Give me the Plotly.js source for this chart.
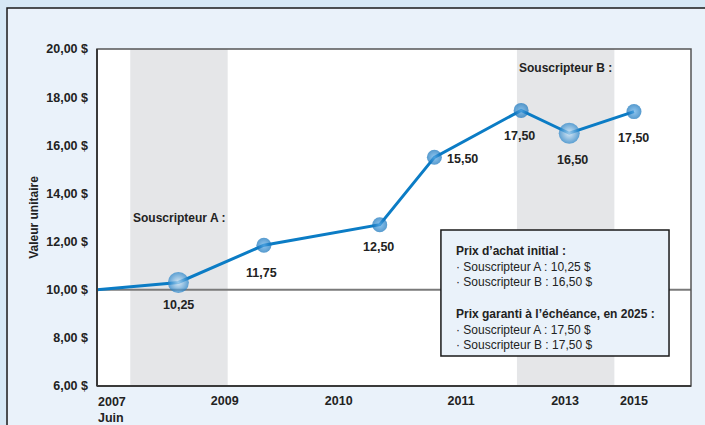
<!DOCTYPE html>
<html><head><meta charset="utf-8">
<script src="https://cdn.plot.ly/plotly-3.0.1.min.js"></script>
<style>html,body{margin:0;padding:0;background:#d6e8f5;}#chart{width:705px;height:425px;}</style>
</head><body><div id="chart"></div>
<script>
// Data (x positions are in the chart's own arbitrary horizontal units 0–100)
const pointX = [0, 13.7, 28.1, 47.6, 56.8, 71.4, 79.5, 90.4];
const pointY = [10.0, 10.3, 11.85, 12.7, 15.5, 17.45, 16.5, 17.4];
const pointLabels = ["", "10,25", "11,75", "12,50", "15,50", "17,50", "16,50", "17,50"];
const markerSizes = [0, 21, 15, 15, 15, 15, 21, 15];
const tickX = [21.5, 40.7, 61.3, 78.8, 90.4];
const tickXText = ["2009", "2010", "2011", "2013", "2015"];
const tickY = [6, 8, 10, 12, 14, 16, 18, 20];
const tickYText = ["6,00 $", "8,00 $", "10,00 $", "12,00 $", "14,00 $", "16,00 $", "18,00 $", "20,00 $"];
const bandA = [5.6, 22.0];
const bandB = [70.7, 87.1];
const boxLines = [
  "<b>Prix d’achat initial :</b>",
  "· Souscripteur A : 10,25 $",
  "· Souscripteur B : 16,50 $",
  "<b>Prix garanti à l’échéance, en 2025 :</b>",
  "· Souscripteur A : 17,50 $",
  "· Souscripteur B : 17,50 $"
];

const FONT = "Liberation Sans, Arial, sans-serif";
const DARK = "#222222";

const labelOffsets = {1:{ax:0,ay:23},2:{ax:-2,ay:28},3:{ax:-1,ay:22},4:{ax:28,ay:2},5:{ax:-2,ay:26},6:{ax:3,ay:27},7:{ax:0,ay:26}};
const annotations = [];
pointLabels.forEach((t, i) => {
  if (!t) return;
  const o = labelOffsets[i];
  annotations.push({x: pointX[i], y: pointY[i], xref: 'x', yref: 'y', text: '<b>' + t + '</b>',
    showarrow: false, xshift: o.ax, yshift: -o.ay, font: {family: FONT, size: 12.5, color: DARK}});
});
annotations.push({x: 0, y: 0, xref: 'paper', yref: 'paper', xanchor: 'left', yanchor: 'top', yshift: -7, xshift: -1,
  text: '<b>2007<br>Juin</b>', align: 'left', showarrow: false, font: {family: FONT, size: 12.5, color: DARK}});
annotations.push({x: (bandA[0] + bandA[1]) / 2, y: 13.0, xref: 'x', yref: 'y', text: '<b>Souscripteur A :</b>',
  showarrow: false, font: {family: FONT, size: 12, color: DARK}});
annotations.push({x: (bandB[0] + bandB[1]) / 2, y: 19.2, xref: 'x', yref: 'y', text: '<b>Souscripteur B :</b>',
  showarrow: false, font: {family: FONT, size: 12, color: DARK}});
annotations.push({x: 60.1, y: 12.0, xref: 'x', yref: 'y', xanchor: 'left', yanchor: 'top', align: 'left',
  text: boxLines.slice(0, 3).join('<br>'), showarrow: false,
  font: {family: FONT, size: 12, color: DARK}});
annotations.push({x: 60.1, y: 9.35, xref: 'x', yref: 'y', xanchor: 'left', yanchor: 'top', align: 'left',
  text: boxLines.slice(3).join('<br>'), showarrow: false,
  font: {family: FONT, size: 12, color: DARK}});

const shapes = [
  // outer frame
  {type: 'rect', xref: 'paper', yref: 'paper', x0: -0.1515, x1: 1.1, y0: -0.2, y1: 1.1217, layer: 'below',
   fillcolor: '#eaf2fa', line: {color: '#1a1a1a', width: 1.5}},
  // plot area
  {type: 'rect', xref: 'paper', yref: 'paper', x0: 0, x1: 1, y0: 0, y1: 1, layer: 'below',
   fillcolor: '#ffffff', line: {width: 0}},
  // shaded bands
  {type: 'rect', xref: 'x', yref: 'paper', x0: bandA[0], x1: bandA[1], y0: 0, y1: 1, layer: 'below',
   fillcolor: '#e5e6e8', line: {width: 0}},
  {type: 'rect', xref: 'x', yref: 'paper', x0: bandB[0], x1: bandB[1], y0: 0, y1: 1, layer: 'below',
   fillcolor: '#e5e6e8', line: {width: 0}},
  // reference line at 10 $
  {type: 'line', xref: 'paper', yref: 'y', x0: 0, x1: 1, y0: 10, y1: 10, layer: 'below',
   line: {color: '#7a7a7a', width: 2}},
  // plot border
  {type: 'rect', xref: 'paper', yref: 'paper', x0: 0, x1: 1, y0: 0, y1: 1, layer: 'above',
   line: {color: '#555555', width: 1.5}},
  {type: 'line', xref: 'paper', yref: 'paper', x0: 0, x1: 0, y0: 0, y1: 1, layer: 'above',
   line: {color: '#3a3a3a', width: 2}},
  {type: 'line', xref: 'paper', yref: 'paper', x0: 0, x1: 1, y0: 0, y1: 0, layer: 'above',
   line: {color: '#3a3a3a', width: 2}},
  // info box
  {type: 'rect', xref: 'x', yref: 'y', x0: 57.9, x1: 96.3, y0: 7.25, y1: 12.48, layer: 'above',
   fillcolor: '#eaf2fa', line: {color: '#1a1a1a', width: 1.5}}
];

const traces = [
  {x: pointX, y: pointY, type: 'scatter', mode: 'lines', line: {color: '#0b7cc5', width: 3},
   hoverinfo: 'skip', showlegend: false},
  {x: pointX.slice(1), y: pointY.slice(1), type: 'scatter', mode: 'markers', showlegend: false, hoverinfo: 'skip',
   marker: {size: markerSizes.slice(1),
     color: markerSizes.slice(1).map(s => s > 17 ? '#1f80c8' : '#0e6fb9'),
     gradient: {type: 'radial', color: markerSizes.slice(1).map(s => s > 17 ? '#d3e9fa' : '#62aee8')},
     line: {width: 0}}}
];

const layout = {
  width: 705, height: 425,
  margin: {l: 97, r: 14, t: 49, b: 39},
  paper_bgcolor: '#d6e8f5', plot_bgcolor: 'rgba(0,0,0,0)',
  font: {family: FONT, color: DARK},
  showlegend: false,
  xaxis: {range: [0, 100], showgrid: false, zeroline: false, showline: false, ticks: '',
    tickmode: 'array', tickvals: tickX, ticktext: tickXText.map(t => '<b>' + t + '</b>'),
    tickfont: {family: FONT, size: 12.5, color: DARK}, ticklabelstandoff: 5, fixedrange: true},
  yaxis: {range: [6, 20], showgrid: false, zeroline: false, showline: false, ticks: '',
    tickmode: 'array', tickvals: tickY, ticktext: tickYText.map(t => '<b>' + t + '</b>'),
    tickfont: {family: FONT, size: 12.5, color: DARK}, ticklabelstandoff: 8,
    title: {text: '<b>Valeur unitaire</b>', font: {family: FONT, size: 12, color: DARK}, standoff: 5},
    fixedrange: true},
  shapes: shapes,
  annotations: annotations
};

Plotly.newPlot('chart', traces, layout, {displayModeBar: false, staticPlot: true});
</script></body></html>
